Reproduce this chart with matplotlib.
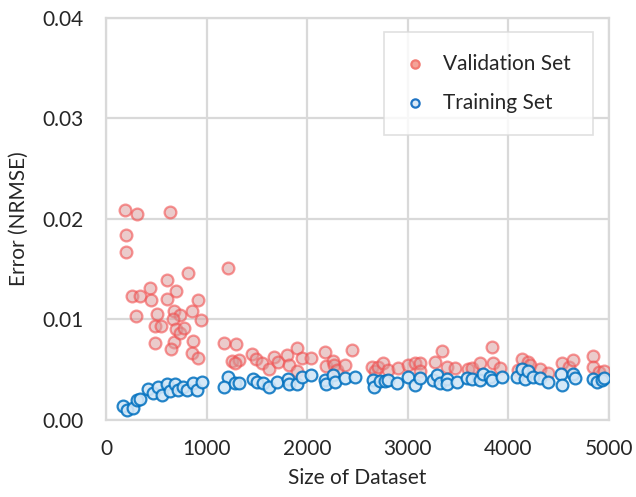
import matplotlib
matplotlib.use('Agg')
import matplotlib.pyplot as plt

# validation error vs dataset size
val_size = [189, 308, 636, 199, 199, 815, 606, 437, 696, 258, 338, 447, 606, 915,
            855, 676, 298, 507, 736, 944, 666, 487, 676, 646, 865, 855, 915, 696,
            736, 775, 487, 547, 1213, 1173, 1292, 1252, 1322, 1282, 1451, 1491,
            1551, 1620, 1670, 1710, 1799, 1819, 1899, 1948, 2038, 1899, 2177,
            2187, 2256, 2266, 2296, 2376, 2450, 2644, 2674, 2704, 2753, 2803,
            2903, 3002, 3072, 3121, 3121, 3270, 3340, 3390, 3469, 3598, 3638,
            3718, 3837, 3847, 3917, 4095, 4135, 4195, 4215, 4314, 4394, 4533,
            4602, 4642, 4841, 4841, 4900, 4950]
val_err = [0.0209, 0.0205, 0.0207, 0.0184, 0.0167, 0.0146, 0.0139, 0.0131, 0.0128,
           0.0123, 0.0123, 0.0119, 0.0120, 0.0119, 0.0108, 0.0108, 0.0103, 0.0105,
           0.0104, 0.0099, 0.0100, 0.0077, 0.0078, 0.0071, 0.0079, 0.0067, 0.0062,
           0.0091, 0.0087, 0.0092, 0.0094, 0.0094, 0.0151, 0.0077, 0.0076, 0.0059,
           0.0060, 0.0057, 0.0066, 0.0061, 0.0057, 0.0051, 0.0063, 0.0058, 0.0065,
           0.0055, 0.0072, 0.0062, 0.0062, 0.0049, 0.0068, 0.0054, 0.0059, 0.0055,
           0.0050, 0.0055, 0.0070, 0.0053, 0.0049, 0.0053, 0.0057, 0.0050, 0.0052,
           0.0055, 0.0057, 0.0057, 0.0049, 0.0058, 0.0069, 0.0053, 0.0052, 0.0051,
           0.0052, 0.0057, 0.0073, 0.0057, 0.0052, 0.0050, 0.0061, 0.0058, 0.0055,
           0.0051, 0.0047, 0.0057, 0.0053, 0.0060, 0.0064, 0.0053, 0.0048, 0.0049]

# training error vs dataset size
train_size = [169, 209, 268, 308, 338, 417, 467, 517, 557, 606, 636, 686, 716, 765,
              805, 865, 905, 954, 1213, 1173, 1282, 1322, 1461, 1501, 1561, 1620,
              1700, 1809, 1819, 1899, 1948, 2038, 2177, 2187, 2256, 2276, 2376,
              2475, 2654, 2664, 2724, 2773, 2803, 2893, 3002, 3072, 3121, 3250,
              3290, 3320, 3390, 3390, 3489, 3588, 3638, 3718, 3748, 3817, 3837,
              3936, 4085, 4135, 4165, 4195, 4245, 4314, 4394, 4523, 4533, 4642,
              4662, 4841, 4881, 4930, 4950]
train_err = [0.0014, 0.0010, 0.0012, 0.0020, 0.0021, 0.0031, 0.0027, 0.0033, 0.0025,
             0.0036, 0.0029, 0.0036, 0.0030, 0.0033, 0.0030, 0.0037, 0.0030, 0.0038,
             0.0043, 0.0033, 0.0037, 0.0037, 0.0041, 0.0038, 0.0037, 0.0033, 0.0038,
             0.0041, 0.0036, 0.0036, 0.0043, 0.0045, 0.0040, 0.0036, 0.0045, 0.0038,
             0.0042, 0.0043, 0.0040, 0.0033, 0.0039, 0.0039, 0.0040, 0.0037, 0.0043,
             0.0035, 0.0042, 0.0040, 0.0045, 0.0037, 0.0041, 0.0036, 0.0038, 0.0042,
             0.0041, 0.0040, 0.0046, 0.0043, 0.0040, 0.0043, 0.0043, 0.0051, 0.0041,
             0.0049, 0.0043, 0.0042, 0.0038, 0.0046, 0.0035, 0.0046, 0.0042, 0.0041,
             0.0038, 0.0040, 0.0042]

plt.rcParams['font.family'] = ['Lato', 'DejaVu Sans']
grid_col = '#d9d9d9'
text_col = '#262626'

fig = plt.figure(figsize=(6.36, 4.97), dpi=100)
ax = fig.add_axes([0.1667, 0.155, 0.7908, 0.8088])

ax.scatter(val_size, val_err, s=72, facecolor=(0.85, 0.6, 0.6, 0.5),
           edgecolor=(0.95, 0.3, 0.3, 0.6), linewidth=1.6,
           label='Validation Set', zorder=3)
ax.scatter(train_size, train_err, s=72, facecolor=(0.82, 0.9, 0.97, 0.9),
           edgecolor=(0.0, 0.44, 0.75, 0.85), linewidth=1.6,
           label='Training Set', zorder=4)

ax.set_xlim(0, 5000)
ax.set_ylim(0, 0.04)
ax.set_xticks([0, 1000, 2000, 3000, 4000, 5000])
ax.set_yticks([0, 0.01, 0.02, 0.03, 0.04])
ax.set_yticklabels(['0.00', '0.01', '0.02', '0.03', '0.04'])
ax.grid(True, color=grid_col, linewidth=1.6, zorder=0)
ax.set_axisbelow(True)
for sp in ax.spines.values():
    sp.set_color(grid_col)
    sp.set_linewidth(1.6)
ax.tick_params(axis='x', length=0, labelsize=15, colors=text_col, pad=14)
ax.tick_params(axis='y', length=0, labelsize=15, colors=text_col, pad=16)

ax.set_xlabel('Size of Dataset', fontsize=15, color=text_col, labelpad=6)
ax.set_ylabel('Error (NRMSE)', fontsize=15, color=text_col, labelpad=10)

leg = ax.legend(loc='upper right', bbox_to_anchor=(0.968, 0.965), fontsize=15,
                frameon=True, fancybox=False, markerscale=0.7,
                borderpad=1.05, labelspacing=0.9, handlelength=0.9,
                handletextpad=0.9, borderaxespad=0.0)
leg.get_frame().set_edgecolor(grid_col)
leg.get_frame().set_linewidth(1.2)
# legend swatches drawn a bit more solid than the data points
leg.legend_handles[0].set_facecolor('#f4a398')
leg.legend_handles[0].set_edgecolor('#f27a72')
leg.legend_handles[1].set_facecolor('#dbe9f6')
leg.legend_handles[1].set_edgecolor('#1f74c4')
for t in leg.get_texts():
    t.set_color(text_col)

fig.savefig('out.png', dpi=100)
